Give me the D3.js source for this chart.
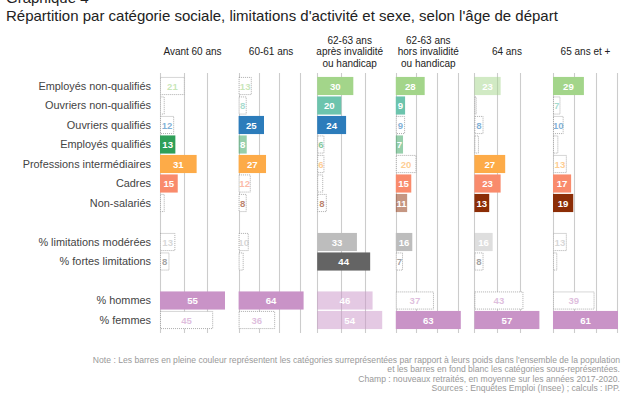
<!DOCTYPE html>
<html><head><meta charset="utf-8">
<script src="https://cdn.jsdelivr.net/npm/d3@7"></script>
<style>body{margin:0;background:#fff;} svg{display:block;font-family:"Liberation Sans",Arial,sans-serif;}</style>
</head><body><svg id="c" width="631" height="400"></svg>
<script>
// ---- data ----
const panels = ["Avant 60 ans", "60-61 ans", "62-63 ans|après invalidité|ou handicap", "62-63 ans|hors invalidité|ou handicap", "64 ans", "65 ans et +"];
const rowKeys = ["Employés non-qualifiés", "Ouvriers non-qualifiés", "Ouvriers qualifiés", "Employés qualifiés", "Professions intermédiaires", "Cadres", "Non-salariés", "gap1", "% limitations modérées", "% fortes limitations", "gap2", "% hommes", "% femmes"];

const employesNonQualifies      = [21, 13, 30, 28, 23, 29];
const ouvriersNonQualifies      = [4, 8, 20, 9, 2, 7];
const ouvriersQualifies         = [12, 25, 24, 9, 8, 10];
const employesQualifies         = [13, 8, 6, 7, 4, 5];
const professionsIntermediaires = [31, 27, 6, 20, 27, 13];
const cadres                    = [15, 12, 5, 15, 23, 17];
const nonSalaries               = [4, 8, 8, 11, 13, 19];
const limitationsModerees       = [13, 10, 33, 16, 16, 13];
const fortesLimitations         = [8, 5, 44, 7, 8, 4];
const hommes                    = [55, 64, 46, 37, 43, 39];
const femmes                    = [45, 36, 54, 63, 57, 61];

// representation: F = surreprésentée (pleine couleur), P = couleur atténuée, O = sous-représentée (fond blanc)
const repEmployesNonQualifies      = ["O","O","F","F","P","F"];
const repOuvriersNonQualifies      = ["O","O","F","F","O","O"];
const repOuvriersQualifies         = ["O","F","F","O","O","O"];
const repEmployesQualifies         = ["F","P","O","P","O","O"];
const repProfessionsIntermediaires = ["F","F","O","O","F","O"];
const repCadres                    = ["F","O","O","F","F","F"];
const repNonSalaries               = ["O","O","O","P","F","F"];
const repLimitationsModerees       = ["O","O","F","F","P","O"];
const repFortesLimitations         = ["O","O","F","O","O","O"];
const repHommes                    = ["F","F","P","O","O","O"];
const repFemmes                    = ["O","O","P","F","F","F"];

const tickValues = [0, 20, 40, 60];

const series = [
  [rowKeys[0], employesNonQualifies, repEmployesNonQualifies],
  [rowKeys[1], ouvriersNonQualifies, repOuvriersNonQualifies],
  [rowKeys[2], ouvriersQualifies, repOuvriersQualifies],
  [rowKeys[3], employesQualifies, repEmployesQualifies],
  [rowKeys[4], professionsIntermediaires, repProfessionsIntermediaires],
  [rowKeys[5], cadres, repCadres],
  [rowKeys[6], nonSalaries, repNonSalaries],
  [rowKeys[8], limitationsModerees, repLimitationsModerees],
  [rowKeys[9], fortesLimitations, repFortesLimitations],
  [rowKeys[11], hommes, repHommes],
  [rowKeys[12], femmes, repFemmes]
];

// ---- styles ----
const colors = {
  "Employés non-qualifiés": "#a3d58a",
  "Ouvriers non-qualifiés": "#6cc4ad",
  "Ouvriers qualifiés": "#2c7cbb",
  "Employés qualifiés": "#2e9f58",
  "Professions intermédiaires": "#fdab48",
  "Cadres": "#f98b6c",
  "Non-salariés": "#8c2d06",
  "% limitations modérées": "#bdbdbd",
  "% fortes limitations": "#646464",
  "% hommes": "#c993c7",
  "% femmes": "#c993c7"
};

const svg = d3.select("#c");

// titles
svg.append("text").attr("x", 6).attr("y", 3).attr("font-size", 15).attr("fill", "#222").text("Graphique 4");
svg.append("text").attr("x", 6).attr("y", 21).attr("font-size", 15).attr("fill", "#222")
  .text("Répartition par catégorie sociale, limitations d'activité et sexe, selon l'âge de départ");

// y band scale
const y = d3.scaleBand().domain(rowKeys).range([76.25, 329.75]).paddingInner(0.07).paddingOuter(0.035);

const yAxis = d3.axisLeft(y).tickSize(0).tickPadding(0)
  .tickFormat(d => d.startsWith("gap") ? "" : d);
const ya = svg.append("g").attr("transform", "translate(151,0)").call(yAxis);
ya.select(".domain").remove();
ya.selectAll("text").attr("font-size", 10.9).attr("fill", "#444").attr("font-family", "Liberation Sans, Arial, sans-serif");

const panelX0 = 160, panelPitch = 78.6, barRange = 65, panelW = 66.5;
const panelTop = 73, panelBottom = 333;

panels.forEach((p, i) => {
  const x0 = panelX0 + i * panelPitch;
  const maxV = d3.max(series, s => s[1][i]);
  const x = d3.scaleLinear().domain([0, maxV]).range([x0, x0 + barRange]);
  const g = svg.append("g");

  // grid
  g.selectAll("line.grid").data(tickValues.filter(t => x(t) <= x0 + panelW)).enter()
    .append("line").attr("class", "grid")
    .attr("x1", d => Math.round(x(d)) + 0.5).attr("x2", d => Math.round(x(d)) + 0.5)
    .attr("y1", panelTop).attr("y2", panelBottom)
    .attr("stroke", "#cccccc").attr("stroke-width", 1.1);

  // header
  const lines = p.split("|");
  const hc = x0 + barRange / 2;
  const midY = 55;
  lines.forEach((ln, k) => {
    g.append("text").attr("x", hc).attr("y", midY + (k - (lines.length - 1) / 2) * 11.5)
      .attr("text-anchor", "middle").attr("font-size", 10).attr("fill", "#222").text(ln);
  });

  // bars
  series.forEach(([key, vals, reps]) => {
    const v = vals[i], r = reps[i], col = colors[key];
    const by = y(key), bh = y.bandwidth();
    const rect = g.append("rect")
      .attr("x", x(0)).attr("y", by).attr("width", x(v) - x(0)).attr("height", bh);
    if (r === "F") {
      rect.attr("fill", col);
    } else if (r === "P") {
      rect.attr("fill", col).attr("fill-opacity", 0.5);
    } else {
      rect.attr("x", x(0) + 0.5).attr("y", by + 0.5).attr("width", Math.max(0, x(v) - x(0) - 1)).attr("height", bh - 1)
        .attr("fill", "#fff").attr("stroke", "#999").attr("stroke-width", 0.8).attr("stroke-dasharray", "1,1");
    }
    if (v >= 6) {
      g.append("text").attr("x", (x(0) + x(v)) / 2).attr("y", by + bh / 2 + 3.5)
        .attr("text-anchor", "middle").attr("font-size", 9.6).attr("font-weight", "bold")
        .attr("fill", r === "O" ? col : "#fff")
        .attr("fill-opacity", r === "O" ? 0.6 : 1)
        .text(v);
    }
  });
});

// notes
const notes = [
  "Note : Les barres en pleine couleur représentent les catégories surreprésentées par rapport à leurs poids dans l'ensemble de la population",
  "et les barres en fond blanc les catégories sous-représentées.",
  "Champ : nouveaux retraités, en moyenne sur les années 2017-2020.",
  "Sources : Enquêtes Emploi (Insee) ; calculs : IPP."
];
notes.forEach((t, k) => {
  svg.append("text").attr("x", 620).attr("y", 363 + k * 9.3).attr("text-anchor", "end")
    .attr("font-size", 8.6).attr("fill", "#999").text(t);
});
</script></body></html>
